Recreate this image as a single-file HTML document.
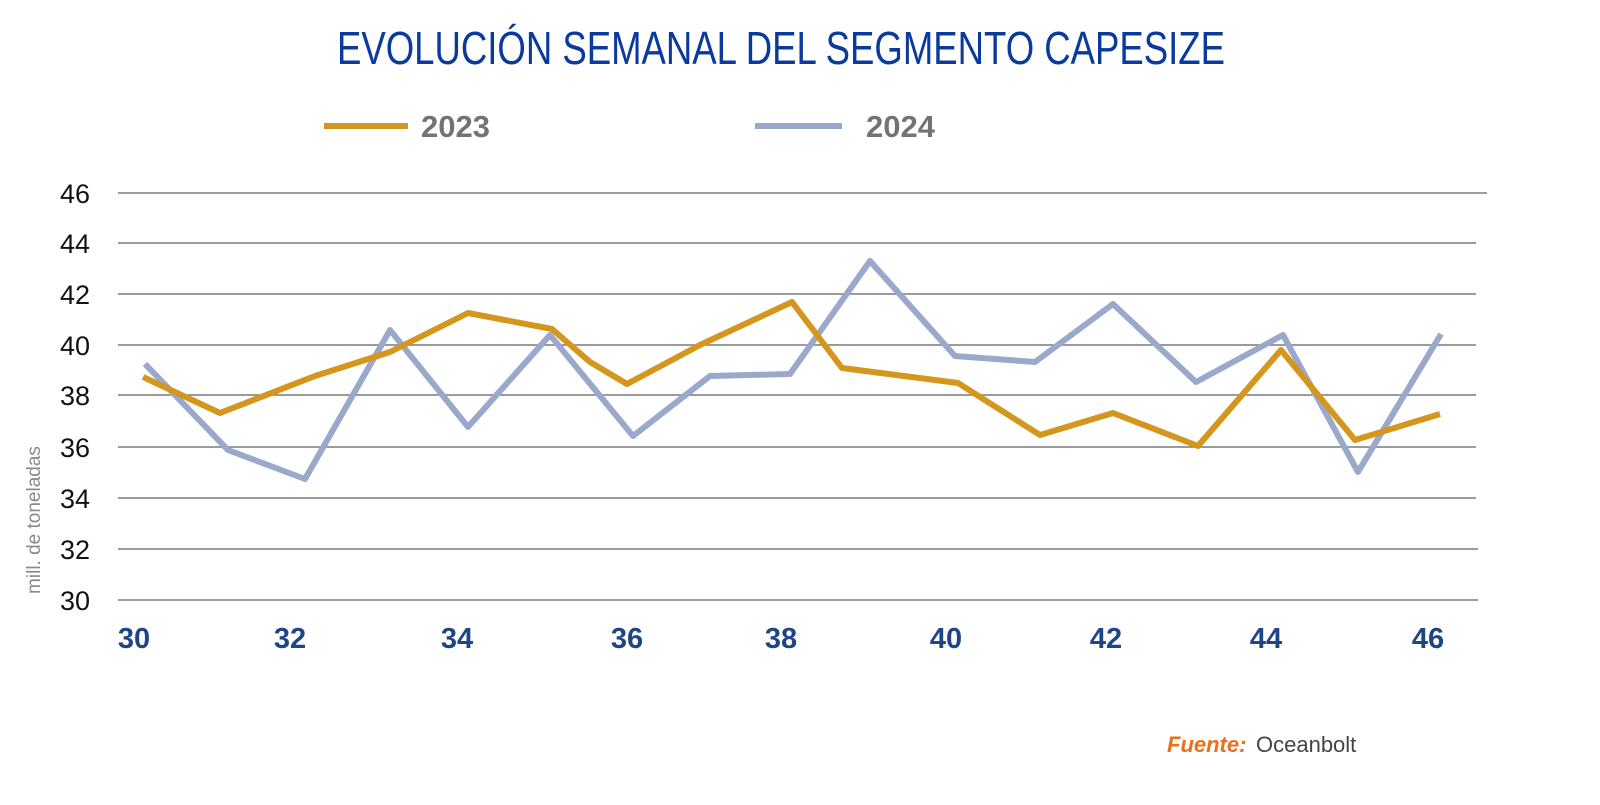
<!DOCTYPE html>
<html><head><style>
body{margin:0;width:1600px;height:800px;background:#fff;overflow:hidden;font-family:"Liberation Sans",sans-serif}
</style></head><body>
<svg width="1600" height="800" xmlns="http://www.w3.org/2000/svg">
<text x="781" y="64" text-anchor="middle" font-family="Liberation Sans, sans-serif" font-size="46" fill="#0a3a9c" transform="translate(781 0) scale(0.74 1) translate(-781 0)" textLength="1200" lengthAdjust="spacingAndGlyphs">EVOLUCIÓN SEMANAL DEL SEGMENTO CAPESIZE</text>
<line x1="324" y1="126" x2="408" y2="126" stroke="#d4961c" stroke-width="6"/>
<text x="421" y="137" font-size="31" font-weight="bold" fill="#737373">2023</text>
<line x1="755" y1="126" x2="842" y2="126" stroke="#9aa8cc" stroke-width="6"/>
<text x="866" y="137" font-size="31" font-weight="bold" fill="#737373">2024</text>
<g stroke="#7a7a7a" stroke-width="1.5">
<line x1="118" y1="193" x2="1487" y2="193"/>
<line x1="118" y1="243" x2="1476" y2="243"/>
<line x1="118" y1="294" x2="1476" y2="294"/>
<line x1="118" y1="345" x2="1476" y2="345"/>
<line x1="118" y1="395" x2="1476" y2="395"/>
<line x1="118" y1="447" x2="1476" y2="447"/>
<line x1="118" y1="498" x2="1476" y2="498"/>
<line x1="118" y1="549" x2="1478" y2="549"/>
<line x1="118" y1="600" x2="1478" y2="600"/>
</g>
<g font-size="27" fill="#111" text-anchor="end">
<text x="90" y="203">46</text><text x="90" y="253">44</text><text x="90" y="304">42</text>
<text x="90" y="355">40</text><text x="90" y="405">38</text><text x="90" y="457">36</text>
<text x="90" y="508">34</text><text x="90" y="559">32</text><text x="90" y="610">30</text>
</g>
<text transform="translate(40 520) rotate(-90)" text-anchor="middle" font-size="19" fill="#8a8a8a">mill. de toneladas</text>
<g font-size="29" font-weight="bold" fill="#1e4585" text-anchor="middle">
<text x="134" y="648">30</text><text x="290" y="648">32</text><text x="457" y="648">34</text>
<text x="627" y="648">36</text><text x="781" y="648">38</text><text x="946" y="648">40</text>
<text x="1106" y="648">42</text><text x="1266" y="648">44</text><text x="1428" y="648">46</text>
</g>
<polyline fill="none" stroke="#9aa8cc" stroke-width="6" stroke-linejoin="round" points="145,364 228,450 305,479 390,330 468,427 550,335 633,436 710,376 790,374 870,261 955,356 1035,362 1113,304 1196,382 1283,335 1358,472 1441,334"/>
<polyline fill="none" stroke="#d4961c" stroke-width="6" stroke-linejoin="round" points="143,377 220,413 315,376 390,352 468,313 552,329 590,362 627,384 700,345 792,302 842,368 958,383 1040,435 1113,413 1198,446 1281,350 1355,440 1440,414"/>
<text x="1167" y="752" font-size="22" font-weight="bold" font-style="italic" fill="#e8701e">Fuente:</text>
<text x="1256" y="752" font-size="22" fill="#444">Oceanbolt</text>
</svg>
</body></html>
